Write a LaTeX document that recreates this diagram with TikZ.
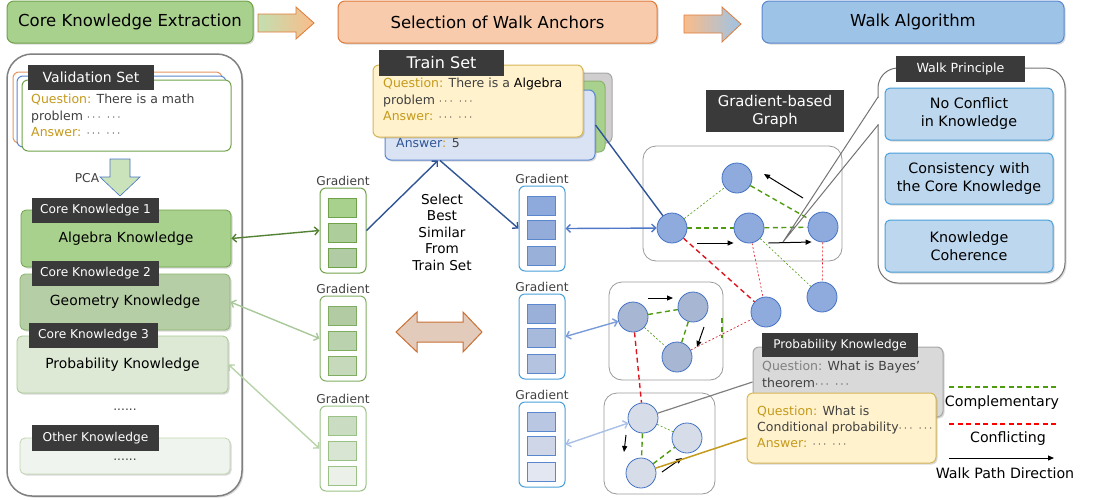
\documentclass[tikz,border=0pt]{standalone}
\usepackage{fontspec}
\setmainfont{DejaVu Sans}
\usetikzlibrary{arrows.meta,shadows,positioning}

\definecolor{grnfill}{HTML}{A9D18E}
\definecolor{grnline}{HTML}{6FA24A}
\definecolor{orgfill}{HTML}{F8CBAD}
\definecolor{orgline}{HTML}{E07B39}
\definecolor{blufill}{HTML}{9DC3E6}
\definecolor{bluline}{HTML}{5B87CF}
\definecolor{tagbg}{HTML}{3A3A3A}
\definecolor{gold}{HTML}{C59A1C}
\definecolor{txt}{HTML}{404040}
\definecolor{nodeline}{HTML}{4472C4}
\definecolor{cgreen}{HTML}{4F9A0F}
\definecolor{cred}{HTML}{E0141E}
\definecolor{dblue}{HTML}{2F5597}

\begin{document}
\begin{tikzpicture}[x=1pt,y=-1pt,
  hdr/.style={draw, rounded corners=7pt, line width=1pt, minimum height=42pt, font=\fontsize{16.5}{19}\selectfont},
  tagbox/.style={fill=tagbg, text=white, inner sep=0pt, font=\fontsize{12.2}{14}\selectfont},
  kbox/.style={draw, rounded corners=5pt, line width=0.8pt, minimum width=210pt, font=\fontsize{13.9}{16}\selectfont},
  card/.style={draw, rounded corners=6pt, line width=1pt},
  body/.style={align=left, anchor=north west, inner sep=0pt, text=txt, font=\fontsize{12.5}{16.5}\selectfont},
  gcol/.style={draw, rounded corners=6pt, line width=1pt, minimum width=46pt, minimum height=85pt},
  sq/.style={draw, line width=1pt, minimum width=28pt, minimum height=19pt, inner sep=0pt},
  glabel/.style={font=\fontsize{12.2}{14}\selectfont, text=txt, inner sep=1pt},
  gbox/.style={draw=gray!80, rounded corners=13pt, line width=0.8pt},
  gnode/.style={circle, draw=nodeline, line width=0.8pt, minimum size=30pt, inner sep=0pt},
  comp/.style={cgreen, line width=1.4pt, dash pattern=on 5pt off 3.5pt},
  compthin/.style={cgreen, line width=0.6pt, dash pattern=on 2pt off 2pt},
  conf/.style={cred, line width=1.4pt, dash pattern=on 5pt off 3.5pt},
  confthin/.style={cred, line width=0.6pt, dash pattern=on 2pt off 2pt},
  walk/.style={-{Triangle[length=6pt,width=5pt]}, line width=1pt},
  onelink/.style={-{Straight Barb[length=4pt,width=8pt]}, line width=1.4pt},
  dlink/.style={{Straight Barb[length=4pt,width=8pt]}-{Straight Barb[length=4pt,width=8pt]}, line width=1.4pt},
  pbox/.style={card, fill={rgb,255:red,189;green,215;blue,238}, draw=bluline!80!cyan, rounded corners=5pt, minimum width=168pt, align=center, font=\fontsize{14.3}{18}\selectfont},
  legtxt/.style={font=\fontsize{14.2}{16}\selectfont},
  shd/.style={drop shadow={shadow xshift=1.5pt, shadow yshift=-1.5pt, opacity=0.3}},
]
\useasboundingbox (0,0) rectangle (1101,499);

% headers
\node[hdr, fill=grnfill, draw=grnline, minimum width=246pt, shd] (hke) at (130,22) {Core Knowledge Extraction};
\node[hdr, fill=orgfill, draw=orgline, minimum width=319pt, shd] (hswa) at (497.5,22) {Selection of Walk Anchors};
\node[hdr, fill=blufill, draw=bluline, minimum width=302pt, shd] (hwa) at (913,22) {Walk Algorithm};
\draw[draw=orgline, line width=0.8pt, left color=grnfill!70!white, right color=orgfill!80!orange] (258,14) -- (296,14) -- (296,7) -- (314,23) -- (296,39) -- (296,32) -- (258,32) -- cycle;
\draw[draw=orgline, line width=0.8pt, left color=orgfill!80!orange, right color=blufill] (684,15) -- (722,15) -- (722,7) -- (741,24) -- (722,42) -- (722,33) -- (684,33) -- cycle;

% core knowledge extraction
\node[draw=gray, rounded corners=25pt, line width=1.5pt, minimum width=235pt, minimum height=442pt, shd, fill=white] (cont) at (124.5,275) {};
\node[card, draw=orgline!80, fill=white, minimum width=209pt, minimum height=71pt] (valc) at (117.5,107.5) {};
\node[card, draw=bluline, fill=white, minimum width=209pt, minimum height=71pt] (valb) at (121.5,111.5) {};
\node[card, draw=grnline, fill=white, minimum width=209pt, minimum height=71pt] (vala) at (126.5,115.5) {};
\node[tagbox, minimum width=126pt, minimum height=25pt, font=\fontsize{14}{16}\selectfont] (valtag) at (91,77.5) {Validation Set};
\node[body] (valtxt) at (31,94) {{\color{gold}Question:} There is a math\\problem $\cdots\ \cdots$\\{\color{gold}Answer:} $\cdots\ \cdots$};

\draw[draw=nodeline, fill=grnfill!60!white, line width=0.6pt] (110,159) -- (130,159) -- (130,177) -- (140,177) -- (120,196) -- (100,177) -- (110,177) -- cycle;
\node[glabel] (pca) at (87,178) {PCA};

\node[kbox, fill=grnfill, draw=grnline, minimum height=57pt, shd] (kn1) at (126,238.5) {Algebra Knowledge};
\node[kbox, fill={rgb,255:red,181;green,206;blue,165}, draw=grnline!80, minimum height=56pt, shd] (kn2) at (125,302) {Geometry Knowledge};
\node[kbox, fill={rgb,255:red,221;green,233;blue,213}, draw=grnline!60, minimum width=211pt, minimum height=57pt, shd] (kn3) at (122.5,364.5) {Probability Knowledge};
\node[glabel] (kdots) at (125,410) {......};
\node[kbox, fill={rgb,255:red,240;green,244;blue,238}, draw=grnline!45, minimum height=36pt, shd] (kno) at (125,456) {};
\node[glabel] (kodots) at (125,460) {......};
\node[tagbox, minimum width=127pt, minimum height=25pt] (kt1) at (95.5,210.5) {Core Knowledge 1};
\node[tagbox, minimum width=127pt, minimum height=25pt] (kt2) at (95.5,273.5) {Core Knowledge 2};
\node[tagbox, minimum width=129pt, minimum height=25pt] (kt3) at (93.5,335.5) {Core Knowledge 3};
\node[tagbox, minimum width=127pt, minimum height=26pt] (kto) at (95.5,438) {Other Knowledge};

% gradient columns
\foreach \c/\y/\fa/\fb/\fc/\ln in {1/188/A9D18E/ADCE9A/B1CBA4/6FA24A, 2/296/B2CBA3/BBD2AE/C6D9BB/7FAE62, 3/406/CADCC2/D8E5D2/EBF0E8/9AC286} {
  \definecolor{sqa}{HTML}{\fa}\definecolor{sqb}{HTML}{\fb}\definecolor{sqc}{HTML}{\fc}\definecolor{sqln}{HTML}{\ln}
  \node[gcol, draw=sqln, fill=white] (gl\c) at (343,\y+42.5) {};
  \node[glabel, above=1pt of gl\c] (gll\c) {Gradient};
  \node[sq, fill=sqa, draw=sqln] (gl\c-a) at (342,\y+19.5) {};
  \node[sq, fill=sqb, draw=sqln] (gl\c-b) at (342,\y+44.5) {};
  \node[sq, fill=sqc, draw=sqln] (gl\c-c) at (342,\y+69.5) {};
}
\foreach \c/\y/\fa/\fb/\fc in {1/186/8EA9DB/93ACDA/99B0D8, 2/294/9BB0D9/A8BADC/B4C3E0, 3/402/BAC7E2/CED6E8/E2E7F1} {
  \definecolor{sqa}{HTML}{\fa}\definecolor{sqb}{HTML}{\fb}\definecolor{sqc}{HTML}{\fc}
  \node[gcol, draw=bluline!80!cyan, fill=white] (gr\c) at (542,\y+42.5) {};
  \node[glabel, above=1pt of gr\c] (grl\c) {Gradient};
  \node[sq, fill=sqa, draw=bluline] (gr\c-a) at (541.5,\y+19.5) {};
  \node[sq, fill=sqb, draw=bluline] (gr\c-b) at (541.5,\y+43.5) {};
  \node[sq, fill=sqc, draw=bluline] (gr\c-c) at (541.5,\y+69.5) {};
}
\draw[draw=orgline!90!black, fill={rgb,255:red,226;green,203;blue,186}, line width=1pt] (396,332) -- (417,312) -- (417,322) -- (463,322) -- (463,312) -- (482,332) -- (463,352) -- (463,342) -- (417,342) -- (417,352) -- cycle;
\node[align=center, font=\fontsize{13.6}{16.5}\selectfont] (sel) at (442,232) {Select\\Best\\Similar\\From\\Train Set};

% train set
\node[card, fill={rgb,255:red,208;green,206;blue,206}, draw=gray!70, minimum width=207pt, minimum height=70pt] (tsgray) at (508.5,108) {};
\node[card, fill=grnfill, draw=grnline!80, minimum width=210pt, minimum height=71pt] (tsgrn) at (500,116.5) {};
\node[card, fill={rgb,255:red,218;green,227;blue,243}, draw=bluline, minimum width=210pt, minimum height=70pt, shd] (tsblue) at (490,125) {};
\node[anchor=west, inner sep=0pt, font=\fontsize{12.5}{14}\selectfont] (tsans) at (396,143) {\color{dblue}Answer{\color{gold}:} \color{txt}5};
\node[card, fill={rgb,255:red,255;green,242;blue,204}, draw={rgb,255:red,214;green,182;blue,86}, minimum width=210pt, minimum height=72pt, shd] (tsyel) at (478,101) {};
\node[tagbox, minimum width=125pt, minimum height=26pt, font=\fontsize{16}{18}\selectfont] (tstag) at (441.5,63) {Train Set};
\node[body] (tstxt) at (383,78) {{\color{gold}Question:} There is a {\color{black}Algebra}\\problem $\cdots\ \cdots$\\{\color{gold}Answer:} $\cdots\ \cdots$};

% walk graphs
\node[gbox, minimum width=199pt, minimum height=115pt] (g1) at (742.5,203.5) {};
\node[gbox, minimum width=114pt, minimum height=98pt] (g2) at (666,331) {};
\node[gbox, minimum width=111pt, minimum height=101pt] (g3) at (659.5,443.5) {};
\node[tagbox, align=center, minimum width=138pt, minimum height=42pt, font=\fontsize{14.8}{18}\selectfont] (gtag) at (775,111) {Gradient-based\\Graph};

\node[gnode, fill={rgb,255:red,143;green,170;blue,220}] (A) at (672,228) {};
\node[gnode, fill={rgb,255:red,143;green,170;blue,220}] (B) at (737,178) {};
\node[gnode, fill={rgb,255:red,143;green,170;blue,220}] (C) at (749,228) {};
\node[gnode, fill={rgb,255:red,143;green,170;blue,220}] (D) at (823,227) {};
\node[gnode, fill={rgb,255:red,143;green,170;blue,220}] (E) at (766,312) {};
\node[gnode, fill={rgb,255:red,143;green,170;blue,220}] (F) at (822,297) {};
\node[gnode, fill={rgb,255:red,166;green,182;blue,211}] (G) at (633,317) {};
\node[gnode, fill={rgb,255:red,166;green,182;blue,211}] (H) at (693,307) {};
\node[gnode, fill={rgb,255:red,166;green,182;blue,211}] (I) at (677,357) {};
\node[gnode, fill={rgb,255:red,214;green,220;blue,232}] (J) at (643,418) {};
\node[gnode, fill={rgb,255:red,214;green,220;blue,232}] (K) at (687,438) {};
\node[gnode, fill={rgb,255:red,214;green,220;blue,232}] (L) at (641,473) {};

\draw[compthin] (A) -- (B);
\draw[comp] (B) -- (D);
\draw[comp] (A) -- (C);
\draw[comp] (C) -- (D);
\draw[conf] (A) -- (E);
\draw[confthin] (C) -- (E);
\draw[compthin] (C) -- (F);
\draw[confthin] (D) -- (F);
\draw[comp] (G) -- (H);
\draw[comp] (H) -- (I);
\draw[compthin] (G) -- (I);
\draw[confthin] (I) -- (E);
\draw[conf] (G) -- (J);
\draw[compthin] (J) -- (K);
\draw[comp] (J) -- (L);
\draw[comp] (L) -- (K);
\draw[comp] (722,318) -- (722,338);

\draw[walk] ([xshift=10pt,yshift=-15pt]A.east) -- ([yshift=-15pt]C.west);
\draw[walk] ([xshift=4pt,yshift=-15pt]C.east) -- ([xshift=4pt,yshift=-15pt]D.west);
\draw[walk] ([shift={(-20pt,29pt)}]D.center) -- ([shift={(27pt,4pt)}]B.center);
\draw[walk] ([shift={(15pt,19pt)}]G.center) -- ([shift={(-20pt,9pt)}]H.center);
\draw[walk] ([shift={(11pt,-20pt)}]H.center) -- ([shift={(20pt,10pt)}]I.center);
\draw[walk] ([shift={(-17pt,-17pt)}]J.center) -- ([shift={(-17pt,21pt)}]L.center);
\draw[walk] ([shift={(21pt,1pt)}]L.center) -- ([shift={(-5pt,-20pt)}]K.center);

% walk principle
\node[draw=gray!90!black, rounded corners=20pt, line width=1pt, fill=white, minimum width=187pt, minimum height=215pt, shd] (wp) at (971.5,175.5) {};
\coordinate (wtip) at (783,242);
\draw[white, line width=2pt] (878,98) -- (878,124);
\draw[gray!90!black, line width=1pt] (878,97) -- (wtip) -- (878,125);
\node[tagbox, minimum width=129pt, minimum height=26pt, font=\fontsize{12.6}{14}\selectfont] (wptag) at (960.5,69) {Walk Principle};
\node[pbox, minimum height=52pt, shd] (wp1) at (969,114) {No Conflict\\in Knowledge};
\node[pbox, minimum height=51pt, shd] (wp2) at (969,178.5) {Consistency with\\the Core Knowledge};
\node[pbox, minimum height=52pt, shd] (wp3) at (969,246) {Knowledge\\Coherence};

% probability cards
\node[card, fill={rgb,255:red,217;green,217;blue,217}, draw=gray!70, minimum width=190pt, minimum height=70pt, shd] (pcard) at (848,382) {};
\node[tagbox, minimum width=156pt, minimum height=24pt, font=\fontsize{12}{14}\selectfont] (ptag) at (840,345) {Probability Knowledge};
\node[body] (ptxt) at (762,361) {{\color{gray}Question:} What is Bayes'\\theorem$\cdots\ \cdots$};
\node[card, fill={rgb,255:red,255;green,242;blue,204}, draw={rgb,255:red,214;green,182;blue,86}, minimum width=189pt, minimum height=70pt, shd] (ycard) at (841.5,428) {};
\node[body, font=\fontsize{12.5}{16}\selectfont] (ytxt) at (757,406) {{\color{gold}Question:} What is\\Conditional probability$\cdots\ \cdots$\\{\color{gold}Answer:} $\cdots\ \cdots$};

% connectors
\draw[dlink, color={rgb,255:red,84;green,130;blue,53}] (kn1.east) -- (gl1.west);
\draw[dlink, color={rgb,255:red,169;green,200;blue,154}] (kn2.east) -- (gl2.west);
\draw[dlink, color={rgb,255:red,184;green,211;blue,170}] (kn3.east) -- (gl3.west);
\draw[onelink, dblue] (gl1.east) -- ([xshift=-52pt]tsblue.south);
\draw[onelink, dblue] ([xshift=-50pt]tsblue.south) -- (gr1.west);
\draw[dblue, line width=1.4pt] (tsblue.east) -- (A);
\draw[dlink, color={rgb,255:red,80;green,120;blue,200}] (gr1.east) -- (A);
\draw[dlink, color={rgb,255:red,122;green,155;blue,218}] (gr2.east) -- (G);
\draw[dlink, color={rgb,255:red,168;green,191;blue,232}] (gr3.east) -- (J);
\draw[gray, line width=1.2pt] (J) -- (pcard.west);
\draw[gold, line width=1.5pt] (L) -- ([yshift=-10pt]ycard.west);

% legend
\draw[comp] (949,387) -- (1059,387);
\node[legtxt] (lgc) at (1002,403) {Complementary};
\draw[conf, red] (949,424) -- (1059,424);
\node[legtxt] (lgf) at (1008,439) {Conflicting};
\draw[walk] (949,458) -- (1054,458);
\node[legtxt] (lgw) at (1005,473) {Walk Path Direction};
\end{tikzpicture}
\end{document}
